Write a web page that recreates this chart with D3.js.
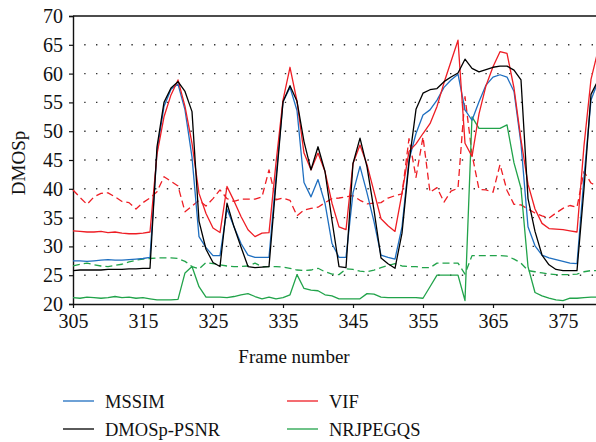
<!DOCTYPE html>
<html>
<head>
<meta charset="utf-8">
<script src="https://cdn.jsdelivr.net/npm/d3@7"></script>
<style>
  html, body { margin: 0; padding: 0; background: #fff; }
  svg { display: block; }
  text { font-family: "Liberation Serif", "Times New Roman", serif; fill: #111; }
</style>
</head>
<body>
<svg id="chart" width="596" height="442"></svg>
<script>
// ---------- data ----------
const frames = d3.range(305, 381);
const xTicks = [305, 315, 325, 335, 345, 355, 365, 375];
const yTicks = [20, 25, 30, 35, 40, 45, 50, 55, 60, 65, 70];
const gridValues = [25, 30, 35, 40, 45, 50, 55, 60, 65];

const mssim = [
  27.5, 27.5, 27.4, 27.5, 27.6, 27.7, 27.6, 27.6, 27.7, 27.8,
  27.9, 28.1, 46.5, 54.3, 57.3, 58.2, 53.7, 45.5, 31.7, 29.8,
  28.4, 28.4, 36.5, 33.4, 30.5, 28.5, 28.1, 28.1, 28.1, 42.0,
  55.1, 57.6, 53.6, 41.1, 38.6, 41.6, 37.5, 30.5, 28.1, 28.1,
  39.3, 43.9, 39.3, 34.3, 28.5, 28.1, 27.8, 33.4, 45.0, 49.6,
  52.8, 53.7, 55.4, 57.6, 58.9, 59.9, 53.7, 51.9, 55.1, 58.0,
  59.4, 59.8, 59.4, 56.9, 47.8, 33.4, 30.1, 28.5, 28.0, 27.7,
  27.4, 27.1, 27.0, 42.0, 55.4, 58.6
];
const dmospPsnr = [
  25.8, 25.9, 25.9, 25.9, 25.9, 26.0, 26.0, 26.0, 26.1, 26.1,
  26.2, 26.2, 47.3, 55.0, 57.5, 58.6, 56.9, 53.4, 34.4, 29.5,
  27.2, 26.5, 37.5, 33.4, 29.9, 26.5, 26.3, 26.4, 26.5, 41.0,
  55.1, 57.9, 55.2, 48.2, 43.3, 47.3, 43.0, 34.5, 26.5, 26.3,
  44.4, 48.8, 43.8, 36.3, 28.0, 27.0, 26.2, 32.3, 44.5, 53.8,
  56.6, 57.2, 57.4, 58.6, 59.4, 60.1, 62.5, 60.9, 60.3, 60.7,
  61.1, 61.3, 61.3, 60.6, 58.9, 38.3, 32.6, 28.5, 26.8, 26.0,
  25.8, 25.8, 25.8, 40.0, 56.4, 58.8
];
const vif = [
  32.7, 32.6, 32.5, 32.5, 32.6, 32.4, 32.5, 32.3, 32.2, 32.2,
  32.3, 32.5, 46.0, 52.5, 56.3, 58.9, 54.3, 47.9, 39.2, 35.7,
  33.2, 32.4, 40.4, 37.9, 35.2, 32.9, 31.7, 32.3, 32.4, 44.5,
  55.4, 61.1, 55.2, 46.2, 43.3, 46.2, 43.0, 37.5, 33.4, 32.9,
  44.4, 47.6, 44.2, 39.5, 34.8, 33.6, 32.6, 39.2, 46.5, 47.8,
  49.6, 51.3, 54.3, 58.4, 62.1, 65.8, 47.9, 45.6, 53.0, 57.9,
  61.2, 63.8, 63.5, 57.5, 48.5, 40.8, 36.5, 34.0, 33.1, 33.0,
  32.9, 32.7, 32.5, 47.5, 59.0, 64.0
];
const nrjpegqs = [
  21.1, 21.0, 21.2, 21.1, 21.0, 21.1, 21.3, 21.1, 21.2, 21.0,
  21.1, 20.9, 20.7, 20.7, 20.7, 20.8, 25.4, 26.5, 23.0, 21.2,
  21.2, 21.2, 21.1, 21.3, 21.6, 21.8, 21.3, 20.9, 21.2, 20.9,
  21.1, 21.6, 25.1, 22.7, 22.4, 22.3, 21.6, 21.4, 20.9, 20.9,
  20.9, 20.9, 21.8, 21.7, 21.2, 21.1, 21.1, 21.1, 21.1, 21.1,
  21.0, 23.0, 25.0, 25.0, 25.0, 25.0, 20.6, 52.5, 50.5, 50.5,
  50.5, 50.5, 51.1, 44.5, 40.1, 26.5, 22.0, 21.4, 21.0, 20.7,
  20.6, 21.0, 21.0, 21.1, 21.2, 21.2
];
const vifDashed = [
  39.8, 38.5, 37.3, 38.6, 39.2, 39.3, 38.6, 37.8, 37.6, 36.5,
  37.6, 38.4, 39.5, 42.1, 41.3, 40.5, 36.0, 37.0, 38.0, 37.0,
  38.3, 39.8, 38.3, 37.8, 38.2, 38.2, 38.2, 38.6, 43.3, 38.1,
  38.4, 38.0, 35.3, 36.3, 36.6, 36.8, 37.6, 38.3, 38.4, 38.6,
  38.8, 38.0, 37.4, 37.5, 37.6, 38.4, 38.8, 39.1, 48.7, 42.0,
  49.0, 39.4, 40.2, 37.7, 39.6, 40.1, 56.0, 46.0, 39.9, 39.8,
  39.4, 44.2, 39.7, 37.3, 37.2, 36.5, 35.8, 35.3, 34.9, 35.8,
  36.6, 37.1, 36.8, 43.0, 41.0, 40.4
];
const nrjpegqsDashed = [
  26.6, 26.9, 27.1, 26.8, 26.6, 26.5, 26.7, 26.9, 27.3, 27.6,
  27.8, 27.9, 28.0, 28.0, 28.0, 27.9, 27.4, 26.5, 26.1, 27.2,
  27.0, 26.8, 26.6, 26.5, 26.5, 26.6, 27.1, 26.5, 26.5, 26.5,
  26.4, 26.2, 25.9, 25.8, 25.9, 26.2, 25.6, 25.2, 25.1, 26.1,
  26.0, 25.7, 25.6, 25.9, 26.3, 26.7, 27.0, 26.6, 26.5, 26.5,
  26.3, 26.3, 27.1, 27.1, 27.1, 27.1, 25.2, 28.4, 28.4, 28.4,
  28.4, 28.4, 28.3, 27.8, 27.1, 25.8, 25.6, 25.4, 25.2, 25.1,
  25.1, 25.1, 25.2, 25.6, 25.8, 25.8
];

const seriesNames = ["MSSIM", "DMOSp-PSNR", "VIF", "NRJPEGQS"];
const seriesColors = ["#1f6fc0", "#000000", "#ee1d24", "#21a34a"];

// ---------- layout ----------
const svg = d3.select("#chart");
const mLeft = 73, mRight = 598, mTop = 16, mBottom = 304;

const x = d3.scaleLinear().domain([305, 380]).range([mLeft, mRight]);
const y = d3.scaleLinear().domain([20, 70]).range([mBottom, mTop]);

// gridlines (dotted)
svg.append("g").selectAll("line").data(gridValues).join("line")
  .attr("x1", x(305) + 11.2).attr("x2", 596)
  .attr("y1", d => y(d)).attr("y2", d => y(d))
  .attr("stroke", "#333").attr("stroke-width", 1.4)
  .attr("stroke-dasharray", "1.4,10.4");

// top border
svg.append("line")
  .attr("x1", mLeft).attr("x2", 596).attr("y1", y(70)).attr("y2", y(70))
  .attr("stroke", "#111").attr("stroke-width", 1.4);

// axes
const xAxis = d3.axisBottom(x).tickValues(xTicks).tickSize(4).tickPadding(6).tickFormat(d3.format("d"));
const yAxis = d3.axisLeft(y).tickValues(yTicks).tickSize(4).tickPadding(6).tickFormat(d3.format("d"));

const gx = svg.append("g").attr("transform", `translate(0,${mBottom})`).call(xAxis);
const gy = svg.append("g").attr("transform", `translate(${mLeft},0)`).call(yAxis);
[gx, gy].forEach(g => {
  g.select(".domain").attr("stroke", "#111").attr("stroke-width", 1.4);
  g.selectAll(".tick line").attr("stroke", "#111").attr("stroke-width", 1.2);
  g.selectAll(".tick text").attr("font-family", "Liberation Serif, serif")
    .attr("font-size", 20).attr("fill", "#111");
});
gx.select(".domain").attr("d", `M${mLeft},0.5H596`);

// axis titles
svg.append("text").attr("x", 294).attr("y", 363).attr("text-anchor", "middle")
  .attr("font-size", 19).text("Frame number");
svg.append("text").attr("transform", `translate(25,163) rotate(-90)`)
  .attr("text-anchor", "middle").attr("font-size", 19).text("DMOSp");

// lines
const line = d3.line().x((d, i) => x(frames[i])).y(d => y(d));
const plot = svg.append("g");
const drawn = [
  {values: nrjpegqsDashed, color: seriesColors[3], dash: "7,4"},
  {values: vifDashed, color: seriesColors[2], dash: "7,4"},
  {values: nrjpegqs, color: seriesColors[3], dash: null},
  {values: mssim, color: seriesColors[0], dash: null},
  {values: vif, color: seriesColors[2], dash: null},
  {values: dmospPsnr, color: seriesColors[1], dash: null}
];
plot.selectAll("path").data(drawn).join("path")
  .attr("d", d => line(d.values))
  .attr("fill", "none")
  .attr("stroke", d => d.color)
  .attr("stroke-width", 1.3)
  .attr("stroke-linejoin", "round")
  .attr("stroke-dasharray", d => d.dash);

// legend
const legendPos = [[63, 401], [63, 429], [287, 401], [287, 429]];
const legendOrder = [0, 1, 2, 3];
const lg = svg.append("g");
legendOrder.forEach((si, k) => {
  const [lx, ly] = legendPos[k];
  lg.append("line").attr("x1", lx).attr("x2", lx + 31).attr("y1", ly).attr("y2", ly)
    .attr("stroke", seriesColors[si]).attr("stroke-width", 1.3);
  lg.append("text").attr("x", lx + 42).attr("y", ly + 7)
    .attr("font-size", 18.5).text(seriesNames[si]);
});
</script>
</body>
</html>
